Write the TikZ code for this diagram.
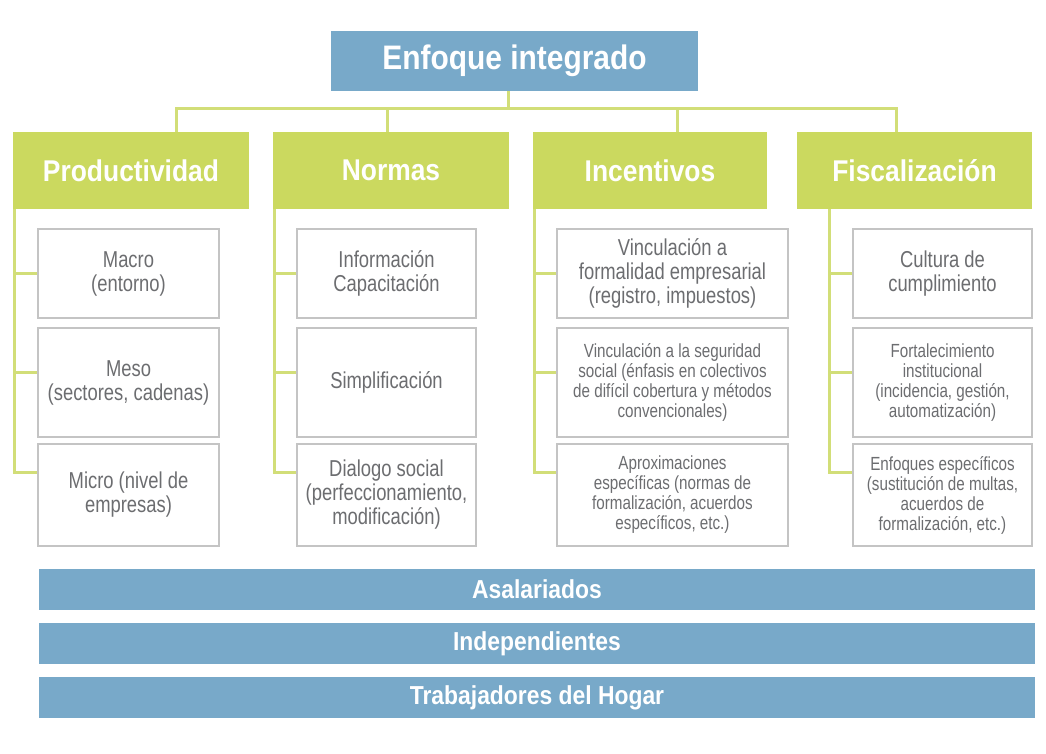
\documentclass[tikz,border=0pt]{standalone}
\usepackage{fontspec}
\setmainfont{Liberation Sans}[FakeStretch=0.8]
\newfontfamily\headfont{Liberation Sans}[FakeStretch=0.88]
\definecolor{enfblue}{HTML}{78A9C9}
\definecolor{enfgreen}{HTML}{CBD95F}
\definecolor{linkgreen}{HTML}{D2DE78}
\definecolor{boxgray}{HTML}{C4C4C4}
\definecolor{txtgray}{HTML}{6C6D70}

\begin{document}
\begin{tikzpicture}[x=1pt,y=-1pt]
    \tikzstyle{head box}=[fill=enfblue, text=white, inner sep=0pt, minimum width=367pt, minimum height=60pt, font=\headfont\bfseries\fontsize{34}{36}\selectfont];
    \tikzstyle{group bar}=[fill=enfblue, text=white, inner sep=0pt, minimum width=996pt, minimum height=41pt, font=\headfont\bfseries\fontsize{26}{28}\selectfont];
    \tikzstyle{pillar}=[fill=enfgreen, text=white, inner sep=0pt, minimum width=236pt, minimum height=77pt, font=\headfont\bfseries\fontsize{30}{32}\selectfont];
    \tikzstyle{item}=[draw=boxgray, line width=2pt, fill=white, text=txtgray, align=center, inner sep=2pt, font=\fontsize{23}{24}\selectfont];
    \tikzstyle{small item}=[item, font=\fontsize{19}{20}\selectfont];
    \tikzstyle{link}=[draw=linkgreen, line width=3pt];

    \useasboundingbox (0,0) rectangle (1046,754);

    \node[head box] (top) at (514.5,61) {Enfoque integrado};
    \coordinate (bus) at (508,109);

    \node[pillar] (prod) at (131,170.5) {Productividad};
    \node[pillar] (norm) at (391,170.5) {Normas};
    \node[pillar, minimum width=234pt] (inc) at (650,170.5) {Incentivos};
    \node[pillar, minimum width=235pt] (fis) at (914.5,170.5) {Fiscalización};

    % Productividad
    \node[item, minimum width=181pt, minimum height=89pt] (prod1) at (128.5,273.5) {Macro\\(entorno)};
    \node[item, minimum width=181pt, minimum height=109pt] (prod2) at (128.5,382.5) {Meso\\(sectores, cadenas)};
    \node[item, minimum width=181pt, minimum height=102pt] (prod3) at (128.5,495) {Micro (nivel de\\empresas)};

    % Normas
    \node[item, minimum width=179pt, minimum height=89pt] (norm1) at (386.5,273.5) {Información\\Capacitación};
    \node[item, minimum width=179pt, minimum height=109pt] (norm2) at (386.5,382.5) {Simplificación};
    \node[item, minimum width=179pt, minimum height=102pt] (norm3) at (386.5,495) {Dialogo social\\(perfeccionamiento,\\modificación)};

    % Incentivos
    \node[item, minimum width=231pt, minimum height=89pt] (inc1) at (672.5,273.5) {Vinculación a\\formalidad empresarial\\(registro, impuestos)};
    \node[small item, minimum width=231pt, minimum height=109pt] (inc2) at (672.5,382.5) {Vinculación a la seguridad\\social (énfasis en colectivos\\de difícil cobertura y métodos\\convencionales)};
    \node[small item, minimum width=231pt, minimum height=102pt] (inc3) at (672.5,495) {Aproximaciones\\específicas (normas de\\formalización, acuerdos\\específicos, etc.)};

    % Fiscalizacion
    \node[item, minimum width=179pt, minimum height=89pt] (fis1) at (942.5,273.5) {Cultura de\\cumplimiento};
    \node[small item, minimum width=179pt, minimum height=109pt] (fis2) at (942.5,382.5) {Fortalecimiento\\institucional\\(incidencia, gestión,\\automatización)};
    \node[small item, minimum width=179pt, minimum height=102pt] (fis3) at (942.5,495) {Enfoques específicos\\(sustitución de multas,\\acuerdos de\\formalización, etc.)};

    \node[group bar] (asal) at (537,589.5) {Asalariados};
    \node[group bar] (indep) at (537,643.5) {Independientes};
    \node[group bar] (hogar) at (537,697.5) {Trabajadores del Hogar};

    \draw[link] (top.south -| bus) -- (bus);
    \draw[link] ([xshift=45pt]prod.north) |- (bus);
    \draw[link] ([xshift=-4pt]norm.north) |- (bus);
    \draw[link] ([xshift=27pt]inc.north) |- (bus);
    \draw[link] ([xshift=-18.5pt]fis.north) |- (bus);

    \draw[link] (prod1.west) -| ([xshift=1.5pt]prod.south west);
    \draw[link] ([yshift=10pt]prod2.west) -| ([xshift=1.5pt]prod.south west);
    \draw[link] ([yshift=23pt]prod3.west) -| ([xshift=1.5pt]prod.south west);

    \draw[link] (norm1.west) -| ([xshift=1.5pt]norm.south west);
    \draw[link] ([yshift=10pt]norm2.west) -| ([xshift=1.5pt]norm.south west);
    \draw[link] ([yshift=23pt]norm3.west) -| ([xshift=1.5pt]norm.south west);

    \draw[link] (inc1.west) -| ([xshift=1.5pt]inc.south west);
    \draw[link] ([yshift=10pt]inc2.west) -| ([xshift=1.5pt]inc.south west);
    \draw[link] ([yshift=23pt]inc3.west) -| ([xshift=1.5pt]inc.south west);

    \draw[link] (fis1.west) -| ([xshift=33pt]fis.south west);
    \draw[link] ([yshift=10pt]fis2.west) -| ([xshift=33pt]fis.south west);
    \draw[link] ([yshift=23pt]fis3.west) -| ([xshift=33pt]fis.south west);

\end{tikzpicture}
\end{document}
